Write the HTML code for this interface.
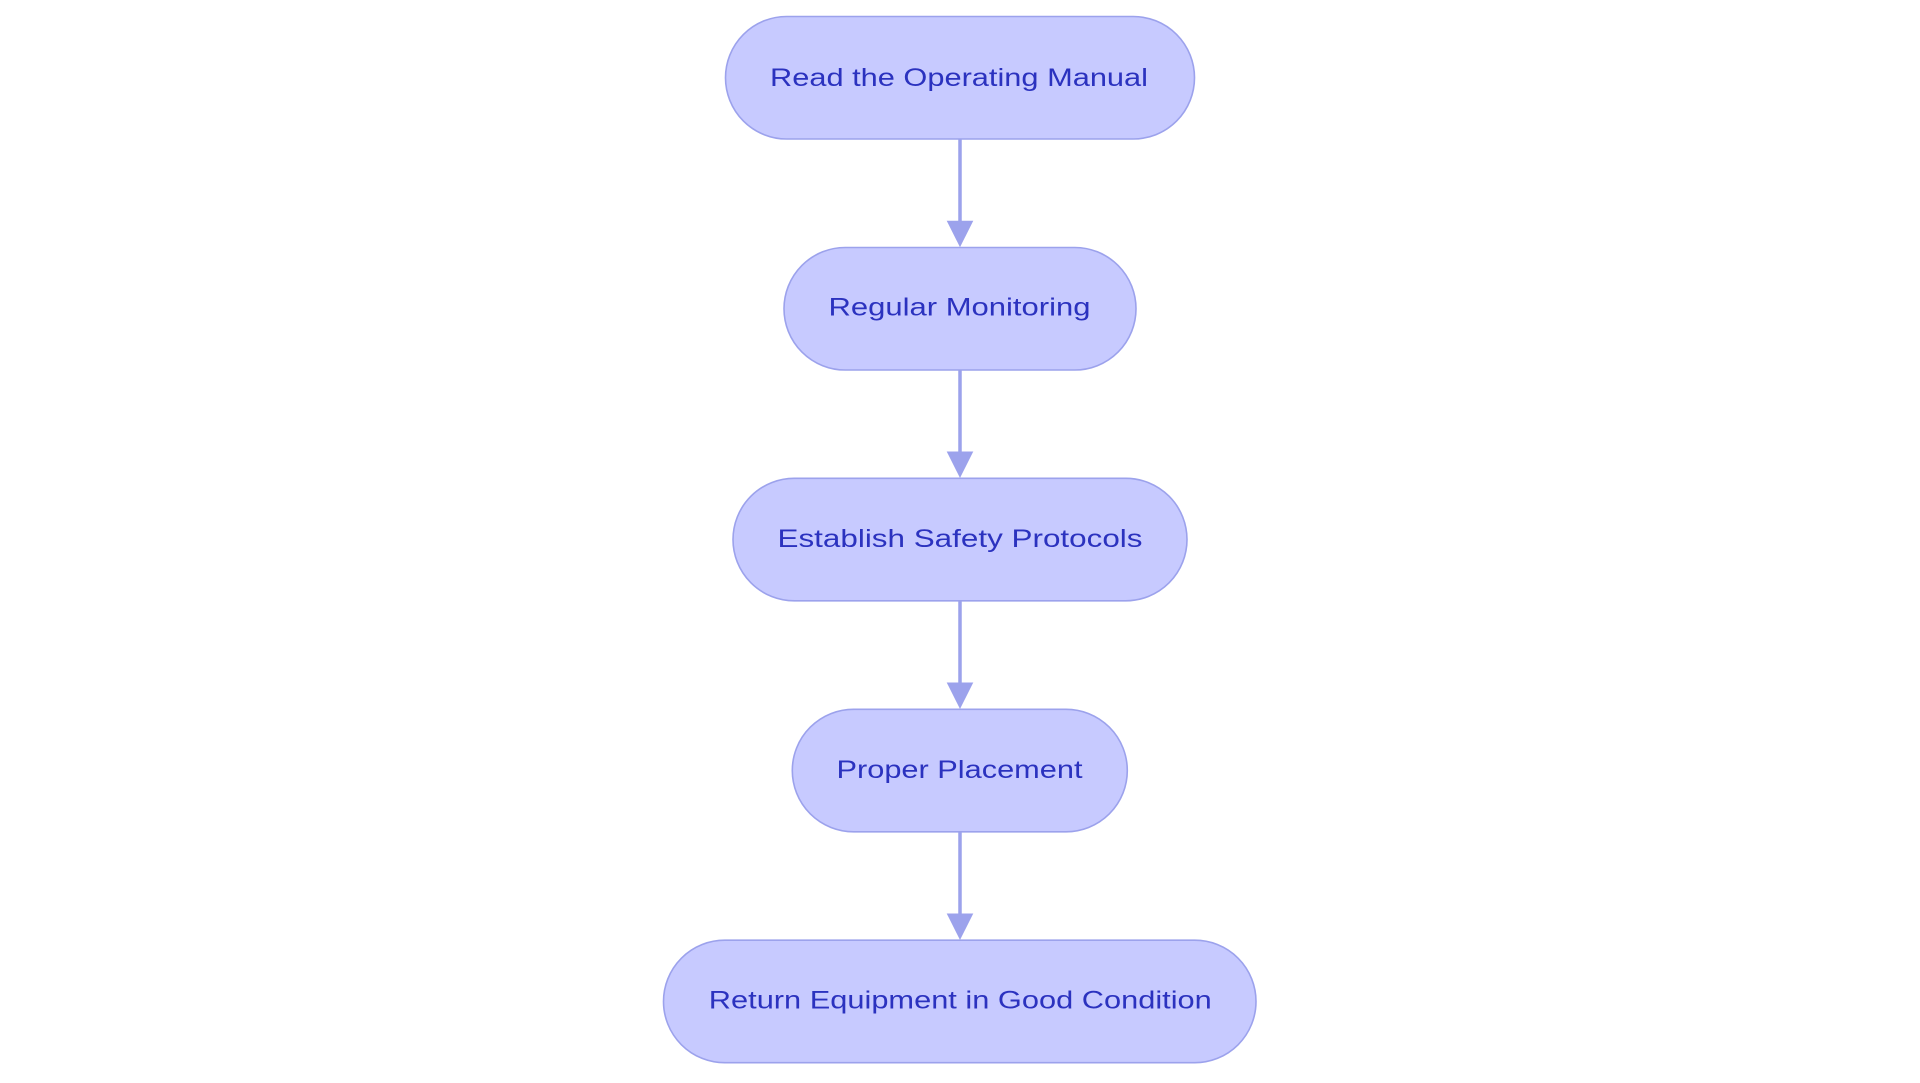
<!DOCTYPE html>
<html>
<head>
<meta charset="utf-8">
<style>
  html, body { margin: 0; padding: 0; background: #ffffff; }
  body { width: 1920px; height: 1083px; overflow: hidden; }
  svg { display: block; }
  text { font-family: "Liberation Sans", "DejaVu Sans", sans-serif; font-size: 25px; fill: #2b32bf; }
</style>
</head>
<body>
<svg width="1920" height="1083" viewBox="0 0 1920 1083" xmlns="http://www.w3.org/2000/svg">
  <!-- connectors -->
  <g stroke="#9ca2ec" stroke-width="3.5" fill="none">
    <line x1="960" y1="139" x2="960" y2="222"/>
    <line x1="960" y1="370" x2="960" y2="453"/>
    <line x1="960" y1="601" x2="960" y2="684"/>
    <line x1="960" y1="832" x2="960" y2="915"/>
  </g>
  <g fill="#9ca2ec">
    <polygon points="946.7,220.7 973.3,220.7 960,247.3"/>
    <polygon points="946.7,451.5 973.3,451.5 960,478"/>
    <polygon points="946.7,682.5 973.3,682.5 960,709"/>
    <polygon points="946.7,913.5 973.3,913.5 960,940"/>
  </g>
  <!-- nodes -->
  <g fill="#c7caff" stroke="#9ca2ec" stroke-width="1.6">
    <rect x="725.5" y="16.5" width="469" height="122.5" rx="61.25" ry="61.25"/>
    <rect x="784" y="247.5" width="352" height="122.5" rx="61.25" ry="61.25"/>
    <rect x="733" y="478.3" width="454" height="122.5" rx="61.25" ry="61.25"/>
    <rect x="792.3" y="709.3" width="335" height="122.5" rx="61.25" ry="61.25"/>
    <rect x="663.5" y="940.2" width="592.5" height="122.5" rx="61.25" ry="61.25"/>
  </g>
  <!-- labels -->
  <g text-anchor="middle">
    <text x="959" y="86" textLength="378" lengthAdjust="spacingAndGlyphs">Read the Operating Manual</text>
    <text x="959.5" y="315.5" textLength="262" lengthAdjust="spacingAndGlyphs">Regular Monitoring</text>
    <text x="960" y="547" textLength="365" lengthAdjust="spacingAndGlyphs">Establish Safety Protocols</text>
    <text x="959.5" y="778" textLength="246" lengthAdjust="spacingAndGlyphs">Proper Placement</text>
    <text x="960.3" y="1008.5" textLength="503" lengthAdjust="spacingAndGlyphs">Return Equipment in Good Condition</text>
  </g>
</svg>
</body>
</html>
